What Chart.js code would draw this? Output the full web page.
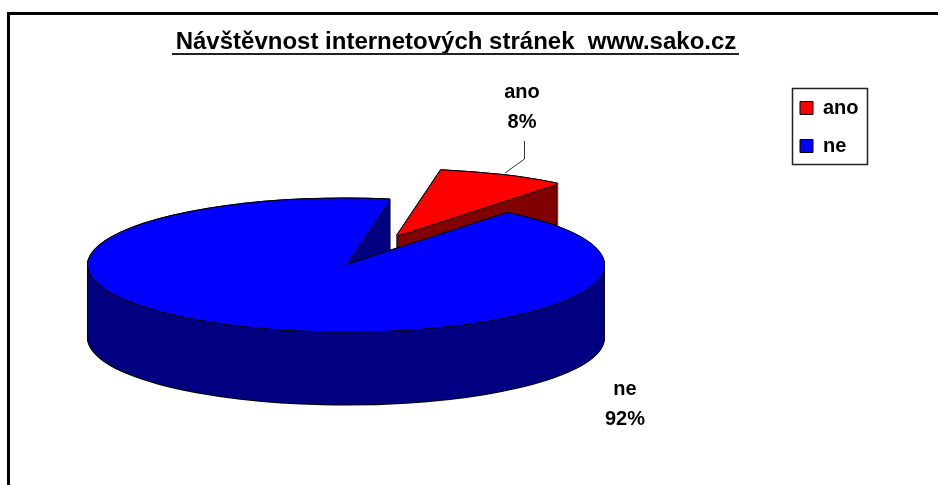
<!DOCTYPE html>
<html>
<head>
<meta charset="utf-8">
<style>html,body{margin:0;padding:0;background:#fff}canvas{display:block}</style>
<script src="https://cdn.jsdelivr.net/npm/chart.js@4"></script>
</head>
<body>
<canvas id="c" width="938" height="485"></canvas>
<script>
const titleText = 'Návštěvnost internetových stránek  www.sako.cz';
const categories = ['ano', 'ne'];
const values = [8, 92];
const topColors = ['#ff0000', '#0000ff'];
const sideColors = ['#800000', '#000080'];

const FONT = '"Liberation Sans", Arial, sans-serif';
const SQUASH = 0.258, DEPTH = 73, EXPLODE = 124, RADIUS = 258;
const labelSpots = [{x: 522, y: 92}, {x: 625, y: 389}];

const pie3d = {
  id: 'pie3d',
  afterLayout(chart) {
    const t = chart.titleBlock, l = chart.legend;
    t.left = 0; t.right = 912; t.top = 28; t.bottom = t.top + t.height;
    l.left = 782; l.top = 80; l.right = 900; l.bottom = 400; l.width = 118; l.height = 320;
  },
  beforeDraw(chart) {
    const c = chart.ctx;
    c.save();
    c.fillStyle = '#000';
    c.fillRect(7, 12, 931, 3);
    c.fillRect(7, 12, 3, 473);
    c.strokeStyle = '#222';
    c.lineWidth = 1.5;
    c.strokeRect(792.5, 88.5, 75, 76);
    c.restore();
  },
  beforeDatasetsDraw(chart) {
    const c = chart.ctx, arcs = chart.getDatasetMeta(0).data;
    const stamp = (arc, color, dx, dy) => {
      const mid = (arc.startAngle + arc.endAngle) / 2;
      const ex = arc.$explode;
      const saved = arc.options;
      c.save();
      c.translate(dx + Math.cos(mid) * ex, dy + Math.sin(mid) * ex * SQUASH);
      c.translate(0, arc.y);
      c.scale(1, SQUASH);
      c.translate(0, -arc.y);
      arc.options = Object.assign({}, saved, {backgroundColor: color, borderWidth: 0, borderColor: color});
      arc.draw(c);
      arc.options = saved;
      c.restore();
    };
    const ring = [[-1, 0], [1, 0], [0, -1], [0, 1]];
    arcs.forEach((arc, i) => {
      arc.$explode = i === 0 ? EXPLODE : 0;
      for (let d = 0; d <= DEPTH; d += 1) ring.forEach(r => stamp(arc, '#000', r[0], r[1] + d));
      for (let d = 0; d <= DEPTH; d += 1) stamp(arc, sideColors[i], 0, d);
      ring.forEach(r => stamp(arc, '#000', r[0], r[1]));
      stamp(arc, topColors[i], 0, 0);
    });
    return false;
  },
  afterDraw(chart) {
    const c = chart.ctx;
    c.save();
    // title underline
    c.fillStyle = '#222';
    c.fillRect(172, 53, 567, 2);
    // leader line
    c.strokeStyle = '#333';
    c.lineWidth = 1;
    c.beginPath();
    c.moveTo(524.5, 141); c.lineTo(524.5, 159); c.lineTo(505, 173);
    c.stroke();
    // data labels
    c.fillStyle = '#000';
    c.font = 'bold 20px ' + FONT;
    c.textAlign = 'center';
    c.textBaseline = 'middle';
    const total = values.reduce((a, b) => a + b, 0);
    categories.forEach((name, i) => {
      const s = labelSpots[i];
      c.fillText(name, s.x, s.y);
      c.fillText(Math.round(values[i] / total * 100) + '%', s.x, s.y + 30);
    });
    c.restore();
  }
};

new Chart(document.getElementById('c'), {
  type: 'pie',
  data: {
    labels: categories,
    datasets: [{data: values, backgroundColor: topColors, borderColor: '#000', borderWidth: 1}]
  },
  plugins: [pie3d],
  options: {
    responsive: false,
    animation: false,
    rotation: 9.8,
    radius: RADIUS,
    layout: {padding: {left: 0, right: 246, top: 20, bottom: 3.8}},
    plugins: {
      tooltip: {enabled: false},
      title: {
        display: true,
        text: titleText,
        color: '#000',
        align: 'center',
        padding: 0,
        font: {family: FONT, size: 24, weight: 'bold'}
      },
      legend: {
        display: true,
        position: 'chartArea',
        align: 'start',
        labels: {
          color: '#000',
          boxWidth: 13,
          boxHeight: 13,
          padding: 18,
          font: {family: FONT, size: 20, weight: 'bold'}
        }
      }
    }
  }
});
</script>
</body>
</html>
